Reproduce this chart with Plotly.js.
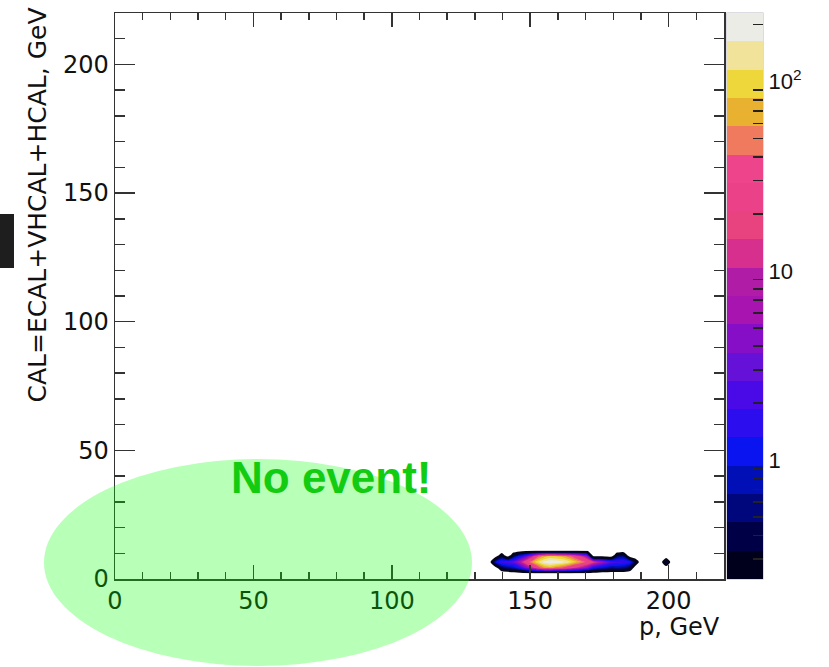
<!DOCTYPE html>
<html>
<head>
<meta charset="utf-8">
<script src="https://cdn.plot.ly/plotly-3.0.1.min.js"></script>
<style>
  html, body { margin: 0; padding: 0; background: #ffffff; }
  #chart { width: 829px; height: 667px; }
</style>
</head>
<body>
<div id="chart"></div>
<script>
// Bin centres of the 2D histogram: track momentum p and calorimeter sum CAL (GeV)
const pCenters = [133.1, 135.3, 137.5, 139.7, 141.9, 144.1, 146.3, 148.5, 150.7, 152.9,
                  155.1, 157.3, 159.5, 161.7, 163.9, 166.1, 168.3, 170.5, 172.7, 174.9,
                  177.1, 179.3, 181.5, 183.7, 185.9, 188.1, 190.3, 192.5, 194.7, 196.9,
                  199.1, 201.3, 203.5];
const calCenters = [2.2, 4.4, 6.6, 8.8, 11.0];

// Weighted entries per bin, one array per CAL row (same order as pCenters)
const entriesCal2p2  = [0, 0, 0, 0, 0, 0, 0, 0, 0, 0, 0, 0, 0, 0, 0, 0, 0, 0, 0, 0,
                        0, 0, 0, 0, 0, 0, 0, 0, 0, 0, 0, 0, 0];
const entriesCal4p4  = [0, 0, 0, 0.4, 0.6, 0.8, 1.5, 4, 12, 30, 60, 70, 50, 40, 25, 15, 9, 5, 1.5, 1,
                        0.8, 0.6, 0.7, 0.6, 0.4, 0, 0, 0, 0, 0, 0, 0, 0];
const entriesCal6p6  = [0, 0, 1, 2, 2.5, 3, 8, 25, 60, 120, 190, 220, 210, 180, 140, 90, 60, 35, 18, 9,
                        4.5, 2.5, 2, 2, 1.5, 0.35, 0, 0, 0, 0, 0.5, 0, 0];
const entriesCal8p8  = [0, 0, 0, 0.4, 0, 0.5, 1.2, 3, 10, 40, 70, 90, 80, 70, 50, 30, 15, 6, 0, 0,
                        0, 0, 0.5, 0.6, 0, 0, 0, 0, 0, 0, 0, 0, 0];
const entriesCal11p0 = [0, 0, 0, 0, 0, 0, 0, 0, 0, 0, 0, 0, 0, 0, 0, 0, 0, 0, 0, 0,
                        0, 0, 0, 0, 0, 0, 0, 0, 0, 0, 0, 0, 0];

// Palette bands, lowest first
const paletteBands = ['#00001c', '#000046', '#00077c', '#0010b6', '#0a14f0',
                      '#2c0ded', '#4a0ae8', '#6611d8', '#860ec6', '#a814b0',
                      '#b01ca6', '#d62f8e', '#e8437f', '#ea4188', '#ed448b',
                      '#ef7a5e', '#e8b12f', '#eed73a', '#f2e39b', '#ecece6'];

// Colour axis (log10 of entries) and its labels
const logZMin = -0.628;
const logZMax = 2.362;
const cbarMajorVals = [1, 10, 100];
const cbarMajorText = ['1', '10', '10<sup>2</sup>'];
const cbarMinorVals = [0.3, 0.4, 0.5, 0.6, 0.7, 0.8, 0.9,
                       2, 3, 4, 5, 6, 7, 8, 9,
                       20, 30, 40, 50, 60, 70, 80, 90, 200];

// ---------------------------------------------------------------------------
const nBands = paletteBands.length;
const bandSize = (logZMax - logZMin) / nBands;
const emptyLog = -1;   // value used for empty bins on the log scale

const rows = [entriesCal2p2, entriesCal4p4, entriesCal6p6, entriesCal8p8, entriesCal11p0];
const zLog = rows.map(r => r.map(v => (v > 0 ? Math.log10(v) : emptyLog)));

// Filled-contour scale: area below the first level stays transparent
const fillScale = [[0, 'rgba(255,255,255,0)']];
paletteBands.forEach((c, i) => fillScale.push([(i + 1) / nBands, c]));

// Stepped scale for the colour bar
const stepScale = [];
paletteBands.forEach((c, i) => {
  stepScale.push([i / nBands, c]);
  stepScale.push([(i + 1) / nBands, c]);
});

// Plot-area geometry in pixels, used to place paper-referenced items
const M = { l: 115, r: 105, t: 13, b: 88 };
const W = 829, H = 667;
const PW = W - M.l - M.r, PH = H - M.t - M.b;
const px2x = px => (px - M.l) / PW;
const py2y = py => (H - M.b - py) / PH;

const labelFont = { family: 'DejaVu Sans', size: 24, color: '#111111' };
const axisColor = '#333333';

const cbarBase = {
  thickness: 36, thicknessmode: 'pixels',
  len: PH, lenmode: 'pixels',
  x: px2x(727), xanchor: 'left', xpad: 0,
  y: 0, yanchor: 'bottom', ypad: 0,
  outlinewidth: 1, outlinecolor: '#b8b8c4',
  ticks: 'inside', tickcolor: '#222222', tickwidth: 1.5,
  tickmode: 'array'
};

const traces = [
  // carrier of the labelled colour bar
  {
    type: 'heatmap', x: pCenters, y: calCenters, z: zLog,
    zmin: logZMin, zmax: logZMax, colorscale: stepScale,
    opacity: 0, hoverinfo: 'skip', showscale: true,
    colorbar: Object.assign({}, cbarBase, {
      tickvals: cbarMajorVals.map(Math.log10), ticktext: cbarMajorText,
      ticklen: 20,
      tickfont: { family: 'Liberation Sans', size: 22, color: '#111111' }
    })
  },
  // carrier of the minor colour-bar ticks
  {
    type: 'heatmap', x: pCenters, y: calCenters, z: zLog,
    zmin: logZMin, zmax: logZMax, colorscale: stepScale,
    opacity: 0, hoverinfo: 'skip', showscale: true,
    colorbar: Object.assign({}, cbarBase, {
      tickvals: cbarMinorVals.map(Math.log10),
      ticklen: 10, showticklabels: false, outlinewidth: 0
    })
  },
  // filled contours
  {
    type: 'contour', x: pCenters, y: calCenters, z: zLog,
    autocontour: false,
    contours: { start: logZMin, end: logZMin + (nBands - 0.5) * bandSize, size: bandSize,
                coloring: 'fill', showlines: false },
    colorscale: fillScale, showscale: false,
    line: { width: 0, smoothing: 0.4 },
    hoverinfo: 'skip'
  },
  // outer contour line
  {
    type: 'contour', x: pCenters, y: calCenters, z: zLog,
    autocontour: false,
    contours: { start: logZMin, end: logZMin + 0.5, size: 1, coloring: 'none' },
    showscale: false,
    line: { color: '#05051a', width: 2.5, smoothing: 0.4 },
    hoverinfo: 'skip'
  }
];

const layout = {
  width: W, height: H,
  margin: Object.assign({ autoexpand: false }, M),
  paper_bgcolor: '#ffffff', plot_bgcolor: '#ffffff',
  showlegend: false,
  xaxis: {
    range: [0, 220], tickmode: 'linear', tick0: 0, dtick: 50,
    ticks: 'inside', ticklen: 14, tickwidth: 1.5, tickcolor: axisColor,
    minor: { tick0: 0, dtick: 10, ticks: 'inside', ticklen: 7, tickwidth: 1.5, tickcolor: axisColor },
    showline: true, linecolor: axisColor, linewidth: 1.5, mirror: 'ticks',
    showgrid: false, zeroline: false, tickfont: labelFont
  },
  yaxis: {
    range: [0, 220], tickmode: 'linear', tick0: 0, dtick: 50,
    ticks: 'inside', ticklen: 20, tickwidth: 1.5, tickcolor: axisColor,
    minor: { tick0: 0, dtick: 10, ticks: 'inside', ticklen: 10, tickwidth: 1.5, tickcolor: axisColor },
    showline: true, linecolor: axisColor, linewidth: 1.5, mirror: 'ticks',
    showgrid: false, zeroline: false, tickfont: labelFont
  },
  shapes: [
    {
      type: 'circle', xref: 'paper', yref: 'paper', layer: 'above',
      x0: px2x(44), x1: px2x(472), y0: py2y(666), y1: py2y(459),
      fillcolor: 'rgba(0,255,0,0.28)', line: { width: 0 }
    },
    {
      type: 'rect', xref: 'paper', yref: 'paper', layer: 'above',
      x0: px2x(0), x1: px2x(14), y0: py2y(268), y1: py2y(214),
      fillcolor: '#1e1e1e', line: { width: 0 }
    }
  ],
  annotations: [
    {
      xref: 'paper', yref: 'paper', x: px2x(37), y: py2y(205.5),
      xanchor: 'center', yanchor: 'middle', textangle: -90, showarrow: false,
      text: 'CAL=ECAL+VHCAL+HCAL, GeV',
      font: { family: 'DejaVu Sans', size: 25, color: '#111111' }
    },
    {
      xref: 'paper', yref: 'paper', x: px2x(722), y: py2y(627),
      xanchor: 'right', yanchor: 'middle', showarrow: false,
      text: 'p, GeV',
      font: { family: 'DejaVu Sans', size: 24, color: '#111111' }
    },
    {
      xref: 'paper', yref: 'paper', x: px2x(331), y: py2y(477.5),
      xanchor: 'center', yanchor: 'middle', showarrow: false,
      text: 'No event!',
      font: { family: 'Liberation Sans', size: 44, color: '#12cc12', weight: 'bold' }
    }
  ]
};

Plotly.newPlot('chart', traces, layout, { staticPlot: true });
</script>
</body>
</html>
